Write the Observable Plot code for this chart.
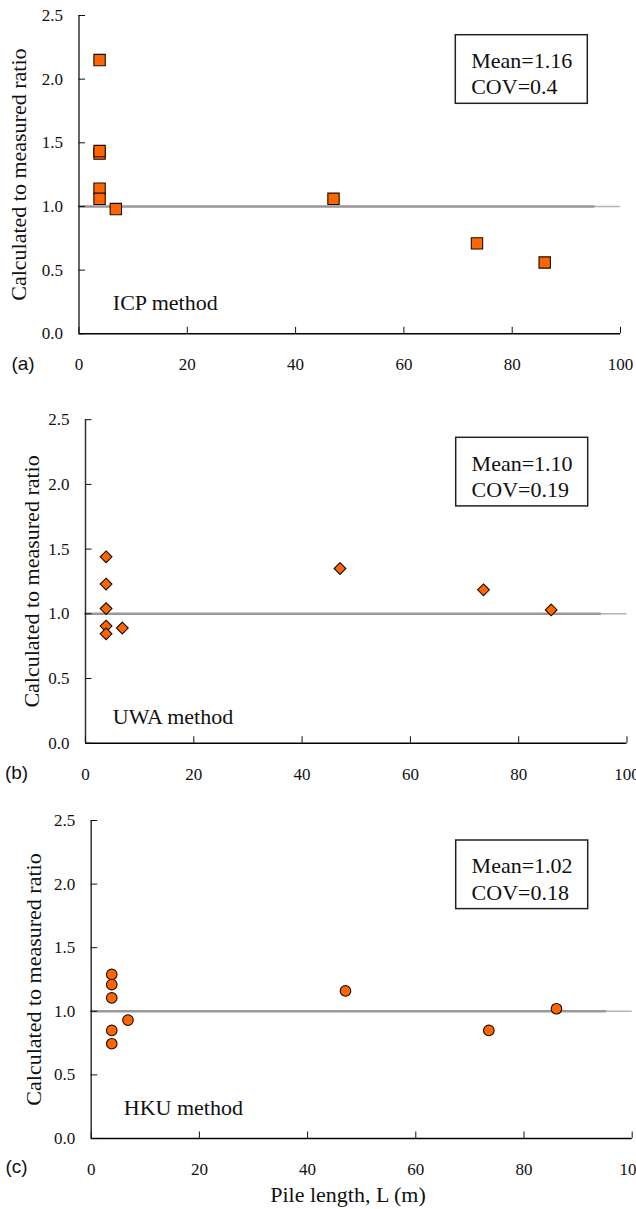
<!DOCTYPE html>
<html><head><meta charset="utf-8">
<script src="https://cdn.jsdelivr.net/npm/d3@7"></script>
<script src="https://cdn.jsdelivr.net/npm/@observablehq/plot@0.6"></script>
<style>
html,body{margin:0;padding:0;background:#fff;overflow:hidden;}
#chart svg{display:block;overflow:visible;}
</style></head><body><div id="chart"></div>
<script>
// ---- data ----
const pileLength = [3.8, 3.8, 3.8, 3.8, 3.8, 6.8, 47, 73.5, 86];
const icpRatio = [2.15, 1.415, 1.435, 1.14, 1.06, 0.98, 1.06, 0.71, 0.56];
const uwaRatio = [1.44, 1.23, 1.04, 0.905, 0.845, 0.89, 1.35, 1.185, 1.03];
const hkuRatio = [1.29, 1.21, 1.105, 0.85, 0.745, 0.93, 1.16, 0.85, 1.02];
const methodNames = ["ICP method", "UWA method", "HKU method"];
const panelTags = ["(a)", "(b)", "(c)"];
const statTexts = ["Mean=1.16\nCOV=0.4", "Mean=1.10\nCOV=0.19", "Mean=1.02\nCOV=0.18"];
const xTicks = [0, 20, 40, 60, 80, 100];
const yTicks = [0, 0.5, 1.0, 1.5, 2.0, 2.5];
const refRatio = [1];
const refSpan = [0, 95];
const yLabel = "Calculated to measured ratio";
const xLabel = "Pile length, L (m)";

// ---- layout (pixels) ----
const panels = [
  {ratio: icpRatio, symbol: "square", r: 6.4, height: 395, mt: 15, mb: 61.7, ml: 78.5, mr: 16,
   tag: [-56, 29.7], ylab: -60, meth: [33.8, -24], box: [376.8, 19.7]},
  {ratio: uwaRatio, symbol: "diamond2", r: 5.3, height: 405, mt: 24.2, mb: 57.3, ml: 85, mr: 9.5,
   tag: [-69, 30], ylab: -54, meth: [27.3, -19.4], box: [370.7, 18.1]},
  {ratio: hkuRatio, symbol: "circle", r: 5.3, height: 409, mt: 20, mb: 71, ml: 90.7, mr: 4.3,
   tag: [-74.7, 28], ylab: -57.7, meth: [32.6, -23.7], box: [365, 20]}
];

const boxW = 132, boxH = 68.6;
function boxMark(left, top) {
  return (index, scales, values, dims) =>
    d3.create("svg:rect")
      .attr("x", dims.marginLeft + left)
      .attr("y", dims.marginTop + top)
      .attr("width", boxW).attr("height", boxH)
      .attr("fill", "white").attr("stroke", "#222").attr("stroke-width", 1.5)
      .node();
}

const chart = document.getElementById("chart");
panels.forEach((p, k) => {
  const pts = pileLength.map((x, i) => ({x, y: p.ratio[i]}));
  const marks = [
    Plot.ruleY(refRatio, {stroke: "#b4b4b4", strokeWidth: 1.5}),
    Plot.line(refSpan.map(x => ({x, y: refRatio[0]})), {x: "x", y: "y", stroke: "#999", strokeWidth: 2.6}),
    Plot.ruleX([0], {stroke: "#333", strokeWidth: 1.5}),
    Plot.ruleY([0], {stroke: "#000", strokeWidth: 1.5}),
    Plot.axisX({ticks: xTicks, tickSize: -6.5, tickPadding: 31, label: null, fontSize: 17}),
    Plot.axisY({ticks: yTicks, tickSize: -6.5, tickPadding: 22.5, label: null, tickFormat: d3.format(".1f"), fontSize: 17}),
    Plot.text([yLabel], {text: d => d, frameAnchor: "left", rotate: -90, dx: p.ylab, textAnchor: "middle", lineAnchor: "middle", fontSize: 22}),
    Plot.text([methodNames[k]], {text: d => d, frameAnchor: "bottom-left", textAnchor: "start", lineAnchor: "bottom", dx: p.meth[0], dy: p.meth[1], fontSize: 22}),
    Plot.text([panelTags[k]], {text: d => d, frameAnchor: "bottom-left", textAnchor: "middle", lineAnchor: "middle", dx: p.tag[0], dy: p.tag[1], fontSize: 19, fontFamily: "Liberation Sans"}),
    boxMark(p.box[0], p.box[1]),
    Plot.text([statTexts[k]], {text: d => d, frameAnchor: "top-left", textAnchor: "start", lineAnchor: "top", lineHeight: 1.2, dx: p.box[0] + 15.4, dy: p.box[1] + 14, fontSize: 22}),
    Plot.dot(pts, {x: "x", y: "y", symbol: p.symbol, r: p.r, fill: "#FF6600", stroke: "#1a0a00", strokeWidth: 1.1})
  ];
  if (k === 2) {
    marks.push(Plot.text([xLabel], {text: d => d, frameAnchor: "bottom", textAnchor: "middle", lineAnchor: "bottom", dx: -13.7, dy: 63.7, fontSize: 22}));
  }
  const svg = Plot.plot({
    width: 636, height: p.height,
    marginTop: p.mt, marginBottom: p.mb, marginLeft: p.ml, marginRight: p.mr,
    x: {domain: [0, 100]},
    y: {domain: [0, 2.5]},
    style: "font-family: 'Liberation Serif', 'Times New Roman', serif; font-size: 17px; background: white; color: #111; overflow: visible;",
    marks
  });
  chart.appendChild(svg);
});
</script></body></html>
